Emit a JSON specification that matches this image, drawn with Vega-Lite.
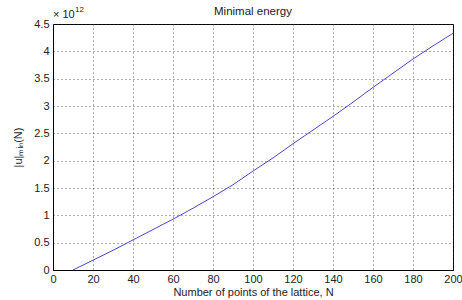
{
  "$schema": "https://vega.github.io/schema/vega-lite/v6.json",
  "width": 400,
  "height": 246,
  "autosize": "none",
  "padding": {"left": 53, "top": 24, "right": 9, "bottom": 30},
  "background": "white",
  "config": {
    "font": "Liberation Sans",
    "view": {"stroke": "black", "strokeWidth": 1},
    "axis": {
      "domainColor": "black",
      "ticks": false,
      "gridColor": "#333333",
      "gridDash": [1, 3],
      "gridOpacity": 0.8,
      "labelColor": "#222222",
      "labelFontSize": 11,
      "titleColor": "#222222",
      "titleFontSize": 11,
      "titleFontWeight": "normal"
    }
  },
  "title": {"text": "Minimal energy", "fontSize": 11.5, "fontWeight": "normal", "color": "#222222", "offset": -11},
  "data": {
    "values": [
      {"N": 10, "u": 0.0},
      {"N": 20, "u": 0.18e12},
      {"N": 30, "u": 0.36e12},
      {"N": 40, "u": 0.55e12},
      {"N": 50, "u": 0.74e12},
      {"N": 60, "u": 0.93e12},
      {"N": 70, "u": 1.13e12},
      {"N": 80, "u": 1.34e12},
      {"N": 90, "u": 1.56e12},
      {"N": 100, "u": 1.81e12},
      {"N": 110, "u": 2.05e12},
      {"N": 120, "u": 2.31e12},
      {"N": 130, "u": 2.56e12},
      {"N": 140, "u": 2.81e12},
      {"N": 150, "u": 3.07e12},
      {"N": 160, "u": 3.34e12},
      {"N": 170, "u": 3.60e12},
      {"N": 180, "u": 3.86e12},
      {"N": 190, "u": 4.10e12},
      {"N": 200, "u": 4.33e12}
    ]
  },
  "layer": [
    {
      "mark": {"type": "line", "color": "#4848d0", "strokeWidth": 1},
      "encoding": {
        "x": {
          "field": "N", "type": "quantitative",
          "scale": {"domain": [0, 200], "nice": false},
          "axis": {"values": [0, 20, 40, 60, 80, 100, 120, 140, 160, 180, 200], "title": "Number of points of the lattice, N", "labelPadding": 3, "titlePadding": 2, "labelFlush": false, "labelOverlap": false, "labelBound": false}
        },
        "y": {
          "field": "u", "type": "quantitative",
          "scale": {"domain": [0, 4.5e12], "nice": false},
          "axis": {"values": [0, 0.5e12, 1e12, 1.5e12, 2e12, 2.5e12, 3e12, 3.5e12, 4e12, 4.5e12], "labelExpr": "format(datum.value / 1e12, '~g')", "title": "|u|ₘᵢₙ(N)", "labelPadding": 4, "titlePadding": 10, "labelFlush": false, "labelOverlap": false, "labelBound": false}
        }
      }
    },
    {
      "data": {"values": [{"label": "× 10"}]},
      "mark": {"type": "text", "align": "left", "baseline": "bottom", "dy": -4, "fontSize": 11, "color": "#222222"},
      "encoding": {
        "x": {
          "datum": 0, "type": "quantitative",
          "scale": {"domain": [0, 200], "nice": false},
          "axis": {"values": [0, 20, 40, 60, 80, 100, 120, 140, 160, 180, 200], "title": "Number of points of the lattice, N", "labelPadding": 3, "titlePadding": 2, "labelFlush": false, "labelOverlap": false, "labelBound": false}
        },
        "y": {
          "datum": 4.5e12, "type": "quantitative",
          "scale": {"domain": [0, 4.5e12], "nice": false},
          "axis": {"values": [0, 0.5e12, 1e12, 1.5e12, 2e12, 2.5e12, 3e12, 3.5e12, 4e12, 4.5e12], "labelExpr": "format(datum.value / 1e12, '~g')", "title": "|u|ₘᵢₙ(N)", "labelPadding": 4, "titlePadding": 10, "labelFlush": false, "labelOverlap": false, "labelBound": false}
        },
        "text": {"field": "label", "type": "nominal"}
      }
    },
    {
      "data": {"values": [{"label": "12"}]},
      "mark": {"type": "text", "align": "left", "baseline": "bottom", "dx": 22, "dy": -10, "fontSize": 8, "color": "#222222"},
      "encoding": {
        "x": {
          "datum": 0, "type": "quantitative",
          "scale": {"domain": [0, 200], "nice": false},
          "axis": {"values": [0, 20, 40, 60, 80, 100, 120, 140, 160, 180, 200], "title": "Number of points of the lattice, N", "labelPadding": 3, "titlePadding": 2, "labelFlush": false, "labelOverlap": false, "labelBound": false}
        },
        "y": {
          "datum": 4.5e12, "type": "quantitative",
          "scale": {"domain": [0, 4.5e12], "nice": false},
          "axis": {"values": [0, 0.5e12, 1e12, 1.5e12, 2e12, 2.5e12, 3e12, 3.5e12, 4e12, 4.5e12], "labelExpr": "format(datum.value / 1e12, '~g')", "title": "|u|ₘᵢₙ(N)", "labelPadding": 4, "titlePadding": 10, "labelFlush": false, "labelOverlap": false, "labelBound": false}
        },
        "text": {"field": "label", "type": "nominal"}
      }
    }
  ]
}
